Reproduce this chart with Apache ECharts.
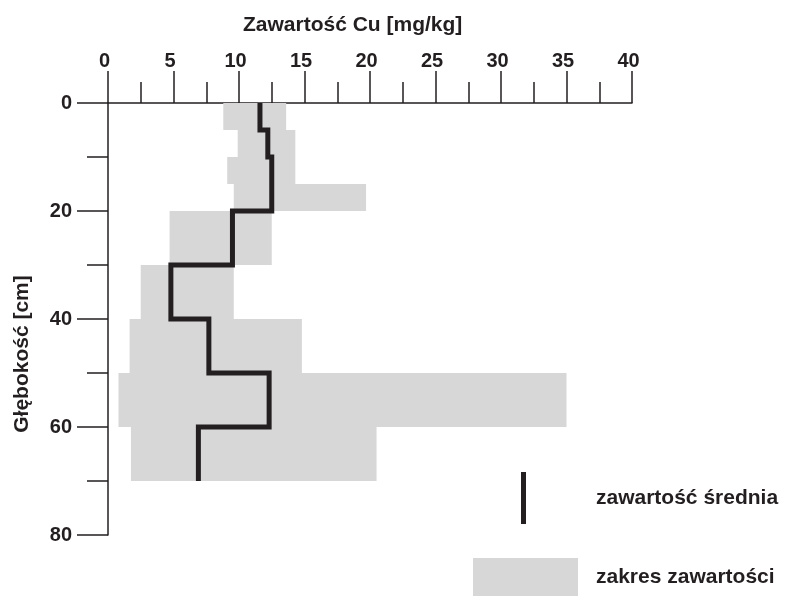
<!DOCTYPE html>
<html>
<head>
<meta charset="utf-8">
<script src="https://cdn.jsdelivr.net/npm/echarts@6/dist/echarts.min.js"></script>
<style>
html,body{margin:0;padding:0;background:#fff;}
#chart{width:785px;height:596px;}
</style>
</head>
<body>
<div id="chart"></div>
<script>
// ---- data ----
const layerTop    = [0, 5, 10, 15, 20, 30, 40, 50, 60];
const layerBottom = [5, 10, 15, 20, 30, 40, 50, 60, 70];
const meanValues  = [11.6, 12.2, 12.5, 12.5, 9.5, 4.8, 7.7, 12.3, 6.9];
const minValues   = [8.8, 9.9, 9.1, 9.6, 4.7, 2.5, 1.65, 0.8, 1.75];
const maxValues   = [13.6, 14.3, 14.3, 19.7, 12.5, 9.6, 14.8, 35.0, 20.5];
const xTitle = 'Zawartość Cu [mg/kg]';
const yTitle = 'Głębokość [cm]';
const meanName = 'zawartość średnia';
const rangeName = 'zakres zawartości';

// ---- build ----
const FONT = '"Liberation Sans", Arial, Helvetica, sans-serif';
const INK = '#231f20';
const GRAY = '#d7d7d7';

const rangeData = layerTop.map((t, i) => [t, layerBottom[i], minValues[i], maxValues[i]]);
const meanPath = [];
layerTop.forEach((t, i) => {
  meanPath.push([meanValues[i], t]);
  meanPath.push([meanValues[i], layerBottom[i]]);
});

const axisLineStyle = { color: INK, width: 1.5 };
const labelStyle = { fontSize: 20, fontWeight: 'bold', fontFamily: FONT, color: INK };

const chart = echarts.init(document.getElementById('chart'), null, { renderer: 'canvas' });
chart.setOption({
  backgroundColor: '#fff',
  animation: false,
  title: {
    text: xTitle, left: 238, top: 10,
    textStyle: { fontSize: 21, fontWeight: 'bold', fontFamily: FONT, color: INK }
  },
  grid: { left: 108, right: 153, top: 103, bottom: 61, containLabel: false },
  xAxis: {
    type: 'value', position: 'top', min: 0, max: 40, interval: 5,
    axisLine: { show: true, onZero: false, lineStyle: axisLineStyle },
    axisTick: { show: true, length: 32, lineStyle: axisLineStyle },
    minorTick: { show: true, splitNumber: 2, length: 21, lineStyle: axisLineStyle },
    splitLine: { show: false }, minorSplitLine: { show: false },
    axisLabel: Object.assign({ margin: 32, padding: [0, 7, 0, 0] }, labelStyle)
  },
  yAxis: {
    type: 'value', inverse: true, min: 0, max: 80, interval: 20,
    axisLine: { show: true, onZero: false, lineStyle: axisLineStyle },
    axisTick: { show: true, length: 31, lineStyle: axisLineStyle },
    minorTick: { show: true, splitNumber: 2, length: 21, lineStyle: axisLineStyle },
    splitLine: { show: false }, minorSplitLine: { show: false },
    axisLabel: Object.assign({ margin: 36, padding: [3, 0, 0, 0] }, labelStyle)
  },
  legend: [
    {
      data: [meanName], left: 521, top: 472, padding: 0, itemGap: 0,
      icon: 'rect', itemWidth: 5, itemHeight: 52, selectedMode: false,
      textStyle: { fontSize: 21, fontWeight: 'bold', fontFamily: FONT, color: INK, padding: [0, 0, 0, 65] }
    },
    {
      data: [rangeName], left: 473, top: 558, padding: 0, itemGap: 0,
      icon: 'rect', itemWidth: 105, itemHeight: 38, selectedMode: false,
      textStyle: { fontSize: 21, fontWeight: 'bold', fontFamily: FONT, color: INK, padding: [0, 0, 0, 13] }
    }
  ],
  graphic: [{
    type: 'text', x: 22, y: 354, rotation: Math.PI / 2,
    style: { text: yTitle, font: 'bold 21px ' + FONT, fill: INK, align: 'center', verticalAlign: 'middle' }
  }],
  series: [
    {
      name: rangeName, type: 'custom',
      itemStyle: { color: GRAY },
      encode: { x: [2, 3], y: [0, 1] },
      data: rangeData,
      renderItem: function (params, api) {
        const p0 = api.coord([api.value(2), api.value(0)]);
        const p1 = api.coord([api.value(3), api.value(1)]);
        return {
          type: 'rect',
          shape: { x: p0[0], y: p0[1], width: p1[0] - p0[0], height: p1[1] - p0[1] },
          style: { fill: GRAY }
        };
      },
      z: 1
    },
    {
      name: meanName, type: 'line', data: meanPath,
      symbol: 'none', showSymbol: false,
      itemStyle: { color: INK },
      lineStyle: { color: INK, width: 5, join: 'miter', cap: 'butt' },
      z: 3
    }
  ]
});
</script>
</body>
</html>
